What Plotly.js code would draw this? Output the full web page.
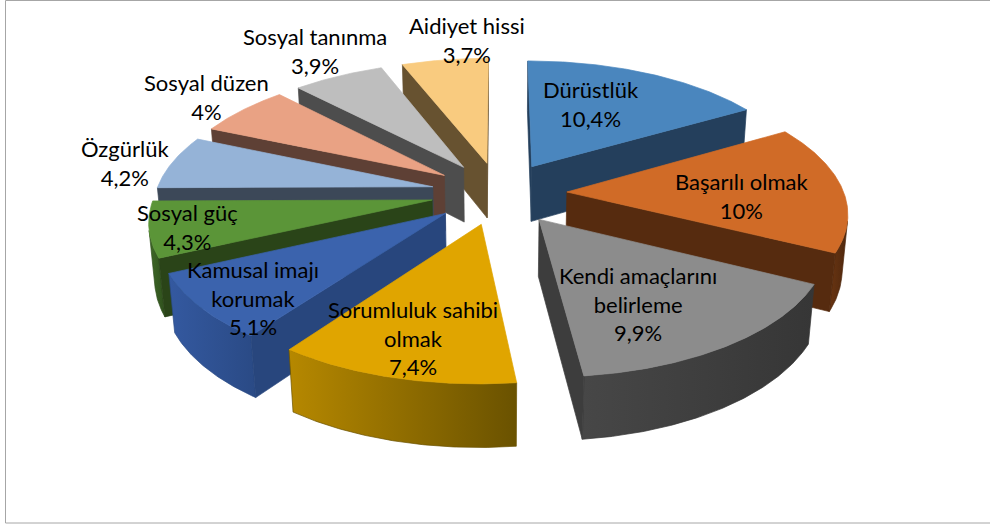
<!DOCTYPE html>
<html>
<head>
<meta charset="utf-8">
<script src="https://cdn.plot.ly/plotly-3.0.1.min.js"></script>
<style>
  html, body { margin: 0; padding: 0; background: #ffffff; }
  #chart { width: 990px; height: 524px; }
</style>
</head>
<body>
<div id="chart"></div>
<script>
// ---- data ----
const labels = [
  "Dürüstlük",
  "Başarılı olmak",
  "Kendi amaçlarını\nbelirleme",
  "Sorumluluk sahibi\nolmak",
  "Kamusal imajı\nkorumak",
  "Sosyal güç",
  "Özgürlük",
  "Sosyal düzen",
  "Sosyal tanınma",
  "Aidiyet hissi"
];
const values = [10.4, 10, 9.9, 7.4, 5.1, 4.3, 4.2, 4, 3.9, 3.7];

// ---- styles ----
const topColors  = ["#4A86BE", "#D06B27", "#8C8C8C", "#E0A500", "#3B63AD", "#5B9538", "#95B3D7", "#E9A284", "#BEBEBE", "#F9CB7F"];
const faceColors = ["#243F5C", "#562B0F", "#3D3D3D", "#6E5500", "#28467D", "#2A4418", "#3C4858", "#5E4035", "#4D4D4D", "#675230"];
const wallLight  = ["#2C4C70", "#6A3512", "#474747", "#B68800", "#3459A0", "#3F6A27", "#6A7F99", "#7A5446", "#5A5A5A", "#7E6640"];
const wallDark   = ["#223A56", "#4E270D", "#363636", "#6A5200", "#2A4A85", "#2F4F1D", "#55667A", "#5E4035", "#454545", "#675230"];
// label centres (pixel layout)
const labelX = [591, 742, 638, 413, 253, 187, 125, 206, 315, 467];
const labelY = [104, 196, 304, 338, 298, 227, 163, 97, 51, 40];

// ---- 3D geometry (view) ----
const sinP = 0.46;
const cosP = Math.sqrt(1 - sinP * sinP);
const Dcam = 1750, cx = 499, cy = 193, R = 277, EXP = 68, H = 64;
const camZ = -Dcam * cosP;

function proj(X, Z, h) {
  const dp = Z * cosP - h * sinP;
  const s = Dcam / (Dcam + dp);
  return [cx + s * X, cy - s * (Z * sinP + h * cosP)];
}

const total = values.reduce((a, b) => a + b, 0);
const slices = [];
let cum = 0;
values.forEach((v, i) => {
  const a1 = cum / total * 2 * Math.PI;
  const a2 = (cum + v) / total * 2 * Math.PI;
  cum += v;
  const mid = (a1 + a2) / 2;
  const Tx = EXP * Math.sin(mid), Tz = EXP * Math.cos(mid);
  const depth = Tz + 0.5 * R * Math.cos(mid);
  slices.push({ i, a1, a2, mid, Tx, Tz, depth });
});
slices.sort((p, q) => q.depth - p.depth);

const traces = [];
function poly(pts, fill, lineColor, grad) {
  const xs = pts.map(p => p[0]), ys = pts.map(p => p[1]);
  xs.push(xs[0]); ys.push(ys[0]);
  const t = {
    type: "scatter", mode: "lines", x: xs, y: ys,
    fill: "toself", fillcolor: fill,
    line: { color: lineColor, width: 0.7 },
    hoverinfo: "skip", showlegend: false
  };
  if (grad) t.fillgradient = { type: "horizontal", colorscale: [[0, grad[0]], [1, grad[1]]] };
  traces.push(t);
}

slices.forEach(sl => {
  const { i, a1, a2, Tx, Tz } = sl;
  const n = Math.max(8, Math.ceil((a2 - a1) / (0.5 * Math.PI / 180)));
  const arc = [];
  for (let k = 0; k <= n; k++) {
    const t = a1 + (a2 - a1) * k / n;
    const X = Tx + R * Math.sin(t), Z = Tz + R * Math.cos(t);
    const vis = Math.sin(t) * (0 - X) + Math.cos(t) * (camZ - Z) > 0;
    arc.push({ t, X, Z, vis });
  }
  // outer wall (visible run)
  const run = arc.filter(p => p.vis);
  if (run.length > 1) {
    const topPts = run.map(p => proj(p.X, p.Z, 0));
    const botPts = run.slice().reverse().map(p => proj(p.X, p.Z, -H));
    poly(topPts.concat(botPts), wallDark[i], wallDark[i], [wallLight[i], wallDark[i]]);
  }
  // radial faces
  const C = [0 - Tx, camZ - Tz];
  const n1 = [-Math.cos(a1), Math.sin(a1)];
  const n2 = [Math.cos(a2), -Math.sin(a2)];
  const P1 = arc[0], P2 = arc[arc.length - 1];
  if (n1[0] * C[0] + n1[1] * C[1] > 0) {
    poly([proj(Tx, Tz, 0), proj(P1.X, P1.Z, 0), proj(P1.X, P1.Z, -H), proj(Tx, Tz, -H)], faceColors[i], faceColors[i]);
  }
  if (n2[0] * C[0] + n2[1] * C[1] > 0) {
    poly([proj(Tx, Tz, 0), proj(P2.X, P2.Z, 0), proj(P2.X, P2.Z, -H), proj(Tx, Tz, -H)], faceColors[i], faceColors[i]);
  }
  // top face
  const top = [proj(Tx, Tz, 0)].concat(arc.map(p => proj(p.X, p.Z, 0)));
  poly(top, topColors[i], topColors[i]);
});

const annotations = labels.map((lab, i) => ({
  x: labelX[i], y: labelY[i], xref: "x", yref: "y",
  text: lab.replace("\n", "<br>") + "<br>" + String(values[i]).replace(".", ",") + "%",
  showarrow: false, xanchor: "center", yanchor: "middle", align: "center",
  font: { family: "Lato, 'Open Sans', sans-serif", size: 22, color: "#000000" }
}));

const layout = {
  width: 990, height: 524,
  margin: { l: 0, r: 0, t: 0, b: 0 },
  paper_bgcolor: "#ffffff", plot_bgcolor: "#ffffff",
  xaxis: { range: [0, 990], visible: false, fixedrange: true },
  yaxis: { range: [524, 0], visible: false, fixedrange: true },
  showlegend: false,
  annotations: annotations,
  shapes: [{
    type: "rect", xref: "x", yref: "y", x0: 5.5, x1: 1200, y0: 0.5, y1: 523,
    line: { color: "#A6A6A6", width: 1 }, fillcolor: "rgba(0,0,0,0)", layer: "below"
  }]
};

Plotly.newPlot("chart", traces, layout, { displayModeBar: false, staticPlot: true });
</script>
</body>
</html>
